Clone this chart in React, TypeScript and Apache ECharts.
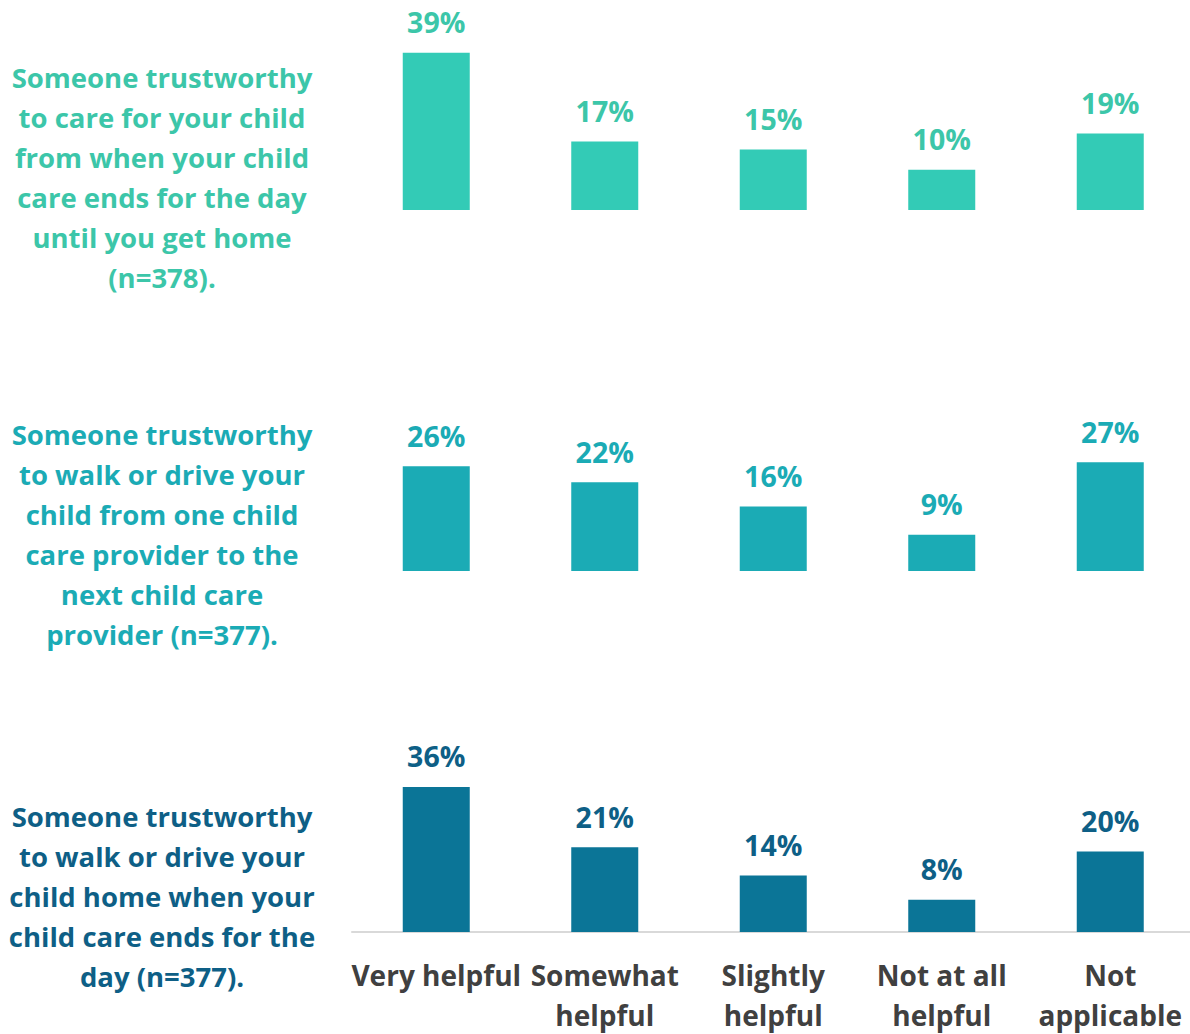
import React, { useEffect, useRef } from "react";
import * as echarts from "echarts";

const categories = ["Very helpful", "Somewhat\nhelpful", "Slightly\nhelpful", "Not at all\nhelpful", "Not\napplicable"];
const seriesCareUntilHome = [39, 17, 15, 10, 19];
const seriesBetweenProviders = [26, 22, 16, 9, 27];
const seriesHomeWhenEnds = [36, 21, 14, 8, 20];
const rowLabels = [
  "Someone trustworthy\nto care for your child\nfrom when your child\ncare ends for the day\nuntil you get home\n(n=378).",
  "Someone trustworthy\nto walk or drive your\nchild from one child\ncare provider to the\nnext child care\nprovider (n=377).",
  "Someone trustworthy\nto walk or drive your\nchild home when your\nchild care ends for the\nday (n=377).",
];

const FONT = "'Open Sans', 'Noto Sans', sans-serif";
const barColors = ["#33CBB6", "#1BABB5", "#0B7597"];
const textColors = ["#3CC6A9", "#1BABB5", "#0E5F86"];
const baselines = [210, 571, 932];
const labelCenters = [177, 534, 896];
const PLOT_H = 161.2;

export default function App() {
  const ref = useRef<HTMLDivElement>(null);
  useEffect(() => {
    document.body.style.margin = "0";
    const chart = echarts.init(ref.current!, null, { renderer: "svg" });
    const data = [seriesCareUntilHome, seriesBetweenProviders, seriesHomeWhenEnds];
    const grids = baselines.map((b) => ({
      left: 352,
      width: 842.5,
      top: b - PLOT_H,
      height: PLOT_H,
      containLabel: false,
      outerBoundsMode: "none",
    }));
    const xAxes = data.map((_, i) => ({
      type: "category",
      gridIndex: i,
      data: categories,
      axisTick: { show: false },
      axisLine: { show: i === 2, lineStyle: { color: "#D9D9D9", width: 2 } },
      axisLabel: {
        show: i === 2,
        interval: 0,
        margin: 23,
        color: "#404040",
        fontFamily: FONT,
        fontWeight: "bold",
        fontSize: 28,
        lineHeight: 40,
      },
    }));
    const yAxes = data.map((_, i) => ({
      type: "value",
      gridIndex: i,
      min: 0,
      max: 40,
      show: false,
      splitLine: { show: false },
    }));
    const series = data.map((d, i) => ({
      type: "bar",
      xAxisIndex: i,
      yAxisIndex: i,
      data: d,
      barWidth: 67,
      itemStyle: { color: barColors[i] },
      label: {
        show: true,
        position: "top",
        distance: 16,
        formatter: "{c}%",
        color: textColors[i],
        fontFamily: FONT,
        fontWeight: "bold",
        fontSize: 28.5,
      },
    }));
    const graphics = rowLabels.map((t, i) => ({
      type: "text",
      x: 162,
      y: labelCenters[i],
      style: {
        text: t,
        fill: textColors[i],
        font: `bold 27.5px ${FONT}`,
        lineHeight: 40,
        textAlign: "center",
        textVerticalAlign: "middle",
      },
    }));
    chart.setOption({
      animation: false,
      grid: grids,
      xAxis: xAxes,
      yAxis: yAxes,
      series,
      graphic: graphics,
    });
    return () => chart.dispose();
  }, []);
  return <div ref={ref} style={{ width: 1190, height: 1034 }} />;
}
